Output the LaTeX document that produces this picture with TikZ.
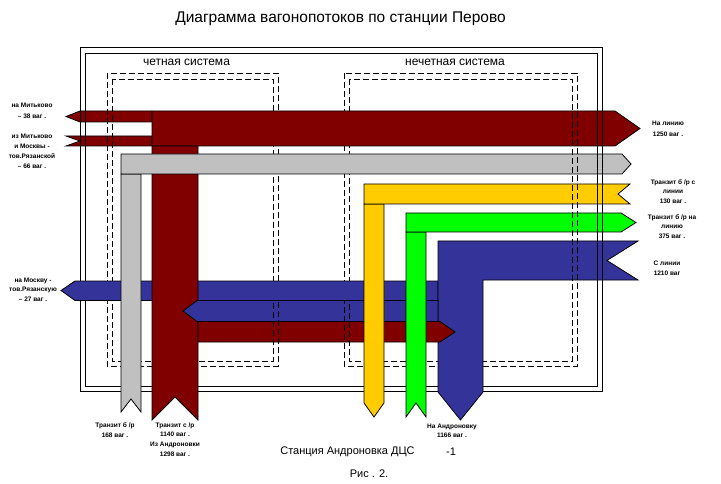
\documentclass[tikz,border=0pt]{standalone}
\usepackage{fontspec}
\setmainfont{Liberation Sans}
\definecolor{cred}{HTML}{800000}
\definecolor{cgray}{HTML}{C0C0C0}
\definecolor{cyel}{HTML}{FFCC00}
\definecolor{cgreen}{HTML}{00FF00}
\definecolor{cblue}{HTML}{333399}
\begin{document}
\begin{tikzpicture}[x=1pt,y=-1pt,
  band/.style={draw=black,line width=0.8pt,line join=miter},
  frameline/.style={draw=black,line width=0.9pt},
  dashline/.style={draw=black,line width=0.9pt,dash pattern=on 6pt off 3pt},
  lbl/.style={font=\fontsize{6.5}{9.8}\selectfont\bfseries,align=center,inner sep=0pt},
  sys/.style={font=\fontsize{12}{14}\selectfont,inner sep=0pt},
  frames/.pic={
    \draw[frameline] (80,47) rectangle (602,391);
    \draw[frameline] (85,53) rectangle (597,386);
    \draw[dashline] (107,73) rectangle (278,366);
    \draw[dashline] (112,79) rectangle (273,361);
    \draw[dashline] (344,73) rectangle (577,366);
    \draw[dashline] (349,79) rectangle (572,361);
  }]
\useasboundingbox[fill=white] (0,0) rectangle (721,484);

% ---------- frames (underneath) ----------
\pic (fr) at (0,0) {frames};

% ---------- arrows ----------
% upper blue (to Moscow)
\path[band,fill=cblue] (61,290.5) -- (75,281) -- (438,281) -- (438,300.5) -- (75,300.5) -- cycle;
% blue from line + vertical to Andronovka
\path[band,fill=cblue] (438,241) -- (638,241) -- (607,260.5) -- (638,280) -- (483,280) -- (483,392) -- (460.5,420) -- (438,392) -- cycle;
% red
\path[band,fill=cred] (66,116.5) -- (80,111) -- (152,111) -- (152,122) -- (80,122) -- cycle;
\path[band,fill=cred] (66,136) -- (152,136) -- (152,146) -- (66,146) -- (80,141) -- cycle;
\path[band,fill=cred] (152,111) -- (615,111) -- (640,128.5) -- (615,146) -- (152,146) -- cycle;
\path[band,fill=cred] (152,146) -- (198,146) -- (198,420) -- (175,397) -- (152,420) -- cycle;
% gray
\path[band,fill=cgray] (121,174) -- (141,174) -- (141,412) -- (131,399) -- (121,412) -- cycle;
\path[band,fill=cgray] (121,154) -- (622,154) -- (631,164) -- (622,174) -- (121,174) -- cycle;
% lower blue
\path[band,fill=cblue] (183,311) -- (197,300.5) -- (438,300.5) -- (438,321.5) -- (197,321.5) -- cycle;
% lower red
\path[band,fill=cred] (198,321.5) -- (440,321.5) -- (455,332) -- (440,342) -- (198,342) -- cycle;
% yellow
\path[band,fill=cyel] (364,204) -- (384,204) -- (384,403) -- (374,417) -- (364,403) -- cycle;
\path[band,fill=cyel] (364,184) -- (630,184) -- (618,194) -- (630,204) -- (364,204) -- cycle;
% green
\path[band,fill=cgreen] (406,232) -- (426,232) -- (426,417) -- (416,403) -- (406,417) -- cycle;
\path[band,fill=cgreen] (406,213) -- (621,213) -- (636,222.5) -- (621,232) -- (406,232) -- cycle;

% ---------- frame lines that show over the bands ----------
\begin{scope}
\clip (0,0) rectangle (118,280.3)
      (0,300.7) rectangle (118,484)
      (560,0) rectangle (721,484)
      (260,300.7) rectangle (360,342.6);
\pic (frtop) at (0,0) {frames};
\end{scope}

% ---------- texts ----------
\node[font=\fontsize{15.5}{18}\selectfont,inner sep=0pt] (title) at (340.5,18.5) {Диаграмма вагонопотоков по станции Перово};
\node[sys] (even) at (186.5,62) {четная система};
\node[sys] (odd) at (455,62) {нечетная система};

\node[lbl,font=\fontsize{6.5}{11}\selectfont\bfseries] (l1) at (32,110.5) {на Митьково\\– 38 ваг .};
\node[lbl,font=\fontsize{6.5}{10}\selectfont\bfseries] (l2) at (32,151) {из Митьково\\и Москвы -\\тов.Рязанской\\– 66 ваг .};
\node[lbl,font=\fontsize{6.5}{9.5}\selectfont\bfseries] (l3) at (33,289.5) {на Москву -\\тов.Рязанскую\\– 27 ваг .};

\node[lbl,font=\fontsize{6.5}{11}\selectfont\bfseries] (r1) at (668,128.5) {На линию\\1250 ваг .};
\node[lbl,font=\fontsize{6.5}{9.5}\selectfont\bfseries] (r2) at (673,191.5) {Транзит б /р с\\линии\\130 ваг .};
\node[lbl,font=\fontsize{6.5}{9.5}\selectfont\bfseries] (r3) at (672,226.5) {Транзит б /р на\\линию\\375 ваг .};
\node[lbl,font=\fontsize{6.5}{10}\selectfont\bfseries] (r4) at (667,268) {С линии\\1210 ваг};

\node[lbl,font=\fontsize{6.5}{10}\selectfont\bfseries] (b1) at (115,430) {Транзит б /р\\168 ваг .};
\node[lbl,font=\fontsize{6.5}{9.7}\selectfont\bfseries] (b2) at (175,439.5) {Транзит с /р\\1140 ваг .\\Из Андроновки\\1298 ваг .};
\node[lbl,font=\fontsize{6.5}{8.5}\selectfont\bfseries] (b3) at (452,431) {На Андроновку\\1166 ваг .};

\node[inner sep=0pt,font=\fontsize{11}{13}\selectfont] (st) at (347.5,452) {Станция Андроновка ДЦС};
\node[inner sep=0pt,font=\fontsize{11}{13}\selectfont] (st1) at (451,452) {-1};
\node[inner sep=0pt,font=\fontsize{11}{13}\selectfont] (fig) at (369,474) {Рис . 2.};
\end{tikzpicture}
\end{document}
